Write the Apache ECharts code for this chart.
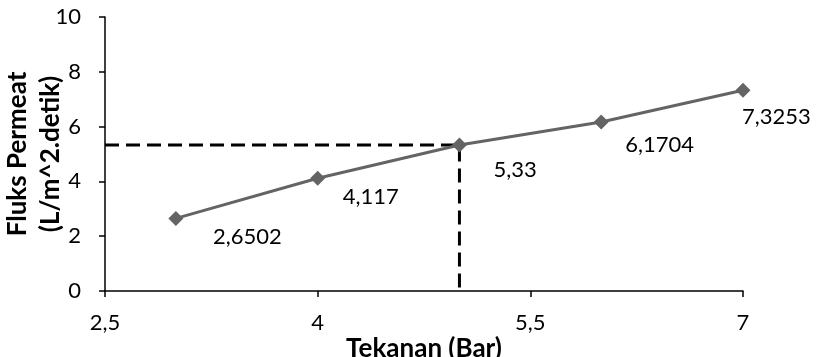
<!DOCTYPE html>
<html><head><meta charset="utf-8">
<script src="https://cdn.jsdelivr.net/npm/echarts@6/dist/echarts.min.js"></script>
<style>html,body{margin:0;padding:0;background:#fff}#c{width:816px;height:357px}</style>
</head><body><div id="c"></div>
<script>
const pressure = [3, 4, 5, 6, 7];
const flux = [2.6502, 4.117, 5.33, 6.1704, 7.3253];
const xTicks = [2.5, 4, 5.5, 7];
const yTicks = [0, 2, 4, 6, 8, 10];
const refPoint = [5, 5.33];
const xTitle = 'Tekanan (Bar)';
const yTitle = ['Fluks Permeat', '(L/m^2.detik)'];

// label placement (pixels, relative to marker centre) — style only
const labelOffsets = [[37, 19], [25, 19], [34, 25], [24, 23], [-1, 27]];

const FONT = 'Lato';
const fmt = v => String(v).replace('.', ',');
const chart = echarts.init(document.getElementById('c'), null, {renderer: 'canvas'});
chart.setOption({
  animation: false,
  grid: {left: 105, right: 73, top: 17, bottom: 66, containLabel: false, outerBoundsMode: 'none'},
  xAxis: {
    type: 'value', min: xTicks[0], max: xTicks[xTicks.length - 1],
    axisLine: {show: true, onZero: false, lineStyle: {color: '#000', width: 1.5}},
    axisTick: {show: true, length: 6, customValues: xTicks, lineStyle: {color: '#000', width: 1.5}},
    axisLabel: {customValues: xTicks, formatter: v => fmt(v), margin: 21, color: '#000', fontFamily: FONT, fontSize: 22},
    splitLine: {show: false},
    name: xTitle, nameLocation: 'middle', nameGap: 45, nameMoveOverlap: false,
    nameTextStyle: {fontFamily: FONT, fontWeight: 'bold', fontSize: 26, color: '#000'}
  },
  yAxis: {
    type: 'value', min: yTicks[0], max: yTicks[yTicks.length - 1], interval: 2,
    axisLine: {show: true, lineStyle: {color: '#000', width: 1.5}},
    axisTick: {show: true, length: 6, lineStyle: {color: '#000', width: 1.5}},
    axisLabel: {margin: 24, color: '#000', fontFamily: FONT, fontSize: 22},
    splitLine: {show: false},
    name: yTitle.join('\n'), nameLocation: 'middle', nameGap: 38, nameRotate: 90, nameMoveOverlap: false,
    nameTextStyle: {fontFamily: FONT, fontWeight: 'bold', fontSize: 26, color: '#000', lineHeight: 33}
  },
  series: [
    {
      type: 'line', silent: true, symbol: 'none',
      data: [[xTicks[0], refPoint[1]], refPoint, [refPoint[0], yTicks[0]]],
      lineStyle: {color: '#000', width: 3, type: [14, 7]}, z: 1
    },
    {
      type: 'line', symbol: 'diamond', symbolSize: 15,
      data: pressure.map((x, i) => ({
        value: [x, flux[i]],
        label: {show: true, position: ['50%', '50%'], offset: labelOffsets[i]}
      })),
      itemStyle: {color: '#646464'},
      lineStyle: {color: '#646464', width: 3},
      label: {formatter: p => fmt(p.value[1]), align: 'left', verticalAlign: 'middle',
        color: '#000', fontFamily: FONT, fontSize: 22},
      z: 3
    }
  ]
});
</script></body></html>
